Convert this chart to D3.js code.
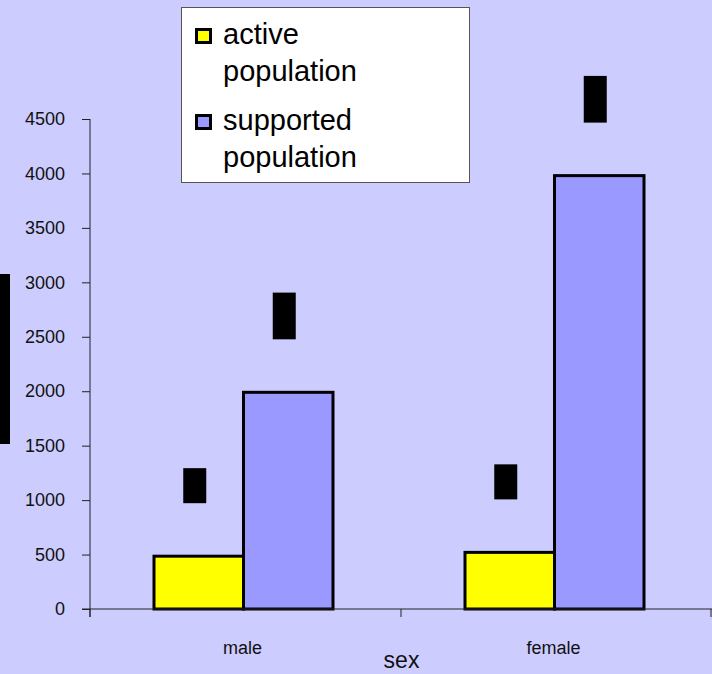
<!DOCTYPE html>
<html>
<head>
<meta charset="utf-8">
<script src="https://cdn.jsdelivr.net/npm/d3@7"></script>
<style>
  html, body { margin: 0; padding: 0; background: #ccccff; }
  svg { display: block; font-family: "Liberation Sans", Arial, sans-serif; }
</style>
</head>
<body>
<script>
// Population by sex: active vs supported
const categories = ["male", "female"];
const seriesNames = ["active population", "supported population"];
const activeValues = [485, 520];
const supportedValues = [1990, 3980];
const yTickValues = [0, 500, 1000, 1500, 2000, 2500, 3000, 3500, 4000, 4500];
const xTitle = "sex";

const seriesColors = ["#ffff00", "#9999ff"];
const W = 712, H = 674;

const svg = d3.select("body").append("svg")
  .attr("width", W).attr("height", H);

svg.append("rect").attr("width", W).attr("height", H).attr("fill", "#ccccff");

const x = d3.scaleBand().domain(categories).range([90, 712]).padding(0);
const inner = d3.scaleBand().domain(d3.range(seriesNames.length))
  .range([64, 64 + 179]).padding(0);
const y = d3.scaleLinear().domain([0, 4500]).range([609, 119]);

// bars
const rows = categories.map((c, i) => [activeValues[i], supportedValues[i]]);
const groups = svg.append("g").selectAll("g").data(categories).join("g")
  .attr("transform", d => `translate(${x(d)},0)`);

groups.selectAll("rect").data((d, i) => rows[i].map((v, s) => ({ v, s })))
  .join("rect")
  .attr("x", d => inner(d.s))
  .attr("width", inner.bandwidth())
  .attr("y", d => y(d.v))
  .attr("height", d => y(0) - y(d.v))
  .attr("fill", d => seriesColors[d.s])
  .attr("stroke", "#000")
  .attr("stroke-width", 3);

// value labels, rotated, dark backing
const labelSize = 21;
groups.each(function (c, i) {
  const g = d3.select(this);
  rows[i].forEach((v, s) => {
    const cx = inner(s) + inner.bandwidth() / 2 - 4;
    const bottom = y(v) - 53;
    const txt = String(v);
    const len = txt.length * 0.556 * labelSize;
    g.append("rect")
      .attr("x", cx - 11.5).attr("y", bottom - len)
      .attr("width", 23).attr("height", len)
      .attr("fill", "#000");
    g.append("text")
      .attr("transform", `translate(${cx + 7},${bottom}) rotate(-90)`)
      .attr("font-size", labelSize)
      .attr("fill", "#000")
      .text(txt);
  });
});

// y axis
const yAxis = d3.axisLeft(y).tickValues(yTickValues).tickSize(8).tickPadding(17)
  .tickFormat(d3.format("d"));
const gy = svg.append("g").attr("transform", "translate(90,0)").call(yAxis);
gy.select(".domain").attr("stroke", "#222").attr("d", "M0,119V617");
gy.selectAll(".tick line").attr("stroke", "#222");
gy.selectAll(".tick text").attr("font-size", 18).attr("fill", "#111")
  .attr("font-family", "Liberation Sans, Arial, sans-serif");

// x axis: baseline with ticks at category boundaries
const gx = svg.append("g");
gx.append("line").attr("x1", 82).attr("x2", 712).attr("y1", y(0)).attr("y2", y(0))
  .attr("stroke", "#222");
const bounds = [x.range()[0], ...categories.map(c => x(c) + x.bandwidth())];
gx.selectAll("line.tk").data(bounds).join("line").attr("class", "tk")
  .attr("x1", d => Math.min(d, 711)).attr("x2", d => Math.min(d, 711))
  .attr("y1", y(0)).attr("y2", y(0) + 8).attr("stroke", "#222");
gx.selectAll("text").data(categories).join("text")
  .attr("x", d => x(d) + x.bandwidth() / 2 - 3)
  .attr("y", 654)
  .attr("text-anchor", "middle")
  .attr("font-size", 18).attr("fill", "#111")
  .text(d => d);

svg.append("text").attr("x", 401.5).attr("y", 668)
  .attr("text-anchor", "middle").attr("font-size", 23).attr("fill", "#111")
  .text(xTitle);

// y axis title backing
svg.append("rect").attr("x", 0).attr("y", 274).attr("width", 10).attr("height", 170)
  .attr("fill", "#000");

// legend
const lg = svg.append("g");
lg.append("rect").attr("x", 181.5).attr("y", 7.5).attr("width", 288).attr("height", 175)
  .attr("fill", "#fff").attr("stroke", "#555").attr("stroke-width", 1);
const legendLines = seriesNames.map(n => {
  const k = n.indexOf(" ");
  return [n.slice(0, k), n.slice(k + 1)];
});
legendLines.forEach((lines, i) => {
  const base = 44 + i * 86;
  lg.append("rect").attr("x", 196.5).attr("y", base - 14.5)
    .attr("width", 14).attr("height", 13)
    .attr("fill", seriesColors[i]).attr("stroke", "#000").attr("stroke-width", 3);
  lines.forEach((t, j) => {
    lg.append("text").attr("x", 223).attr("y", base + j * 36.5)
      .attr("font-size", 29).attr("fill", "#000").text(t);
  });
});
</script>
</body>
</html>
